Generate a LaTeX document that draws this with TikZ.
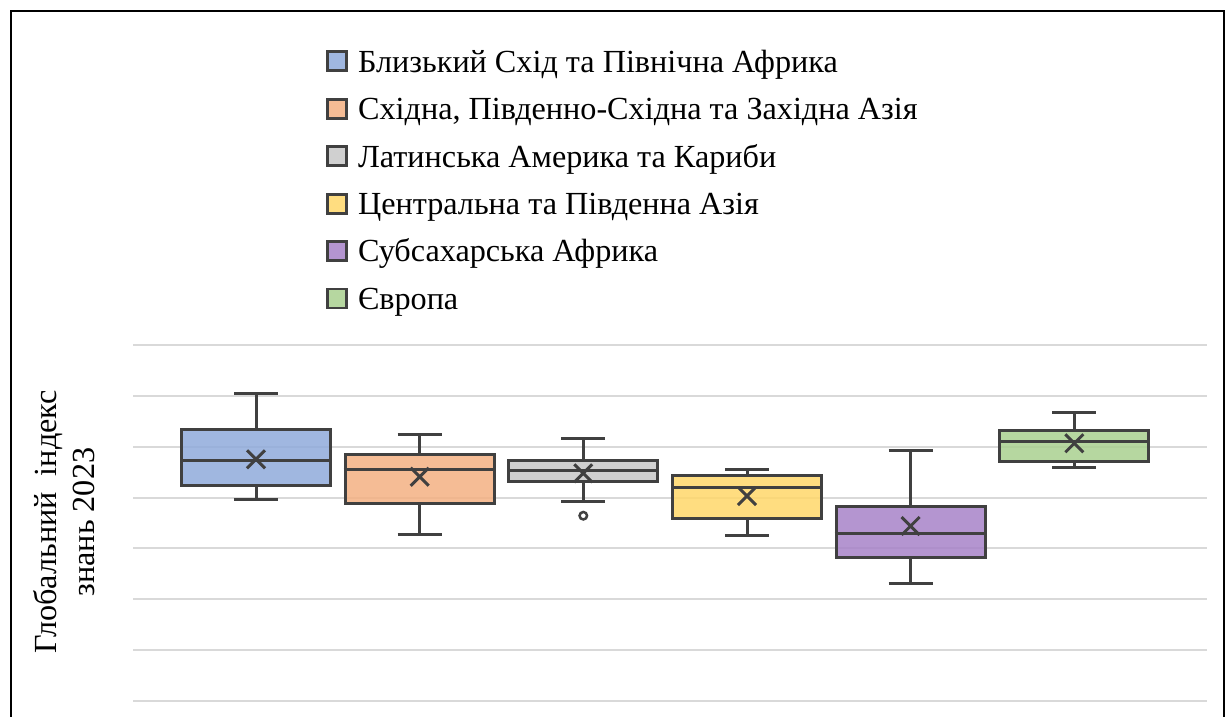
\documentclass[tikz,border=0pt]{standalone}
\usepackage{fontspec}
\setmainfont{Liberation Serif}
\usetikzlibrary{positioning,shapes.misc}
\definecolor{gridgray}{RGB}{217,217,217}
\definecolor{edgegray}{RGB}{64,64,64}
\definecolor{cblue}{RGB}{143,170,219}
\definecolor{corange}{RGB}{243,176,131}
\definecolor{cgray}{RGB}{200,200,200}
\definecolor{cyellow}{RGB}{255,215,106}
\definecolor{cpurple}{RGB}{167,131,200}
\definecolor{cgreen}{RGB}{169,208,143}

\begin{document}
\begin{tikzpicture}[x=1pt,y=-1pt,
    gridline/.style={draw=gridgray, line width=2pt},
    whisk/.style={draw=edgegray, line width=3pt},
    boxst/.style={rectangle, draw=edgegray, line width=3pt, fill opacity=0.85,
      inner sep=0pt, minimum width=149pt},
    meanx/.style={cross out, draw=edgegray, line width=3pt, inner sep=0pt,
      minimum size=15pt},
    legbox/.style={rectangle, draw=edgegray, line width=2.8pt, fill opacity=0.85,
      inner sep=0pt, minimum size=19pt},
    legtext/.style={inner sep=0pt, font=\fontsize{32.2}{38}\selectfont}]
  \useasboundingbox (0,0) rectangle (1226,716);

  % frame
  \draw[line width=2pt] (11,730) -- (11,11) -- (1224,11) -- (1224,730);

  % grid
  \foreach \k in {0,...,7}
    \draw[gridline] (133,345+\k*50.85) -- (1207,345+\k*50.85);

  % axis title
  \node[rotate=90, align=center, inner sep=0pt, font=\fontsize{32.2}{38}\selectfont]
    (ylab) at (64,522) {Глобальний\ \ індекс\\знань 2023};

  % legend
  \node[legbox, fill=cblue] (l1) at (337,61.2) {};
  \node[legbox, fill=corange] (l2) at (337,108.7) {};
  \node[legbox, fill=cgray] (l3) at (337,156.1) {};
  \node[legbox, fill=cyellow] (l4) at (337,203.6) {};
  \node[legbox, fill=cpurple] (l5) at (337,251) {};
  \node[legbox, fill=cgreen] (l6) at (337,298.5) {};
  \node[legtext, right=10pt of l1.south east, anchor=base west] (t1) {Близький Схід та Північна Африка};
  \node[legtext, right=10pt of l2.south east, anchor=base west] (t2) {Східна, Південно-Східна та Західна Азія};
  \node[legtext, right=10pt of l3.south east, anchor=base west] (t3) {Латинська Америка та Кариби};
  \node[legtext, right=10pt of l4.south east, anchor=base west] (t4) {Центральна та Південна Азія};
  \node[legtext, right=10pt of l5.south east, anchor=base west] (t5) {Субсахарська Африка};
  \node[legtext, right=10pt of l6.south east, anchor=base west] (t6) {Європа};

  % whisker ends
  \coordinate (hi1) at (256,393.3);   \coordinate (lo1) at (256,499.3);
  \coordinate (hi2) at (419.7,434);   \coordinate (lo2) at (419.7,534.7);
  \coordinate (hi3) at (583.3,438.7); \coordinate (lo3) at (583.3,501);
  \coordinate (hi4) at (747,469);     \coordinate (lo4) at (747,535);
  \coordinate (hi5) at (910.6,450.7); \coordinate (lo5) at (910.6,583.3);
  \coordinate (hi6) at (1074.3,412.7);\coordinate (lo6) at (1074.3,467);

  \draw[whisk] (256,429) -- (hi1) (256,485.3) -- (lo1);
  \draw[whisk] (419.7,454.7) -- (hi2) (419.7,503.3) -- (lo2);
  \draw[whisk] (583.3,460.3) -- (hi3) (583.3,481.3) -- (lo3);
  \draw[whisk] (747,475.3) -- (hi4) (747,518) -- (lo4);
  \draw[whisk] (910.6,506.7) -- (hi5) (910.6,558) -- (lo5);
  \draw[whisk] (1074.3,430) -- (hi6) (1074.3,461.3) -- (lo6);
  \foreach \n in {1,...,6}
    \draw[whisk] ([xshift=-22pt]hi\n) -- ([xshift=22pt]hi\n)
                 ([xshift=-22pt]lo\n) -- ([xshift=22pt]lo\n);

  % boxes
  \node[boxst, fill=cblue, minimum height=56.3pt] (b1) at (256,457.2) {};
  \node[boxst, fill=corange, minimum height=48.6pt] (b2) at (419.7,479) {};
  \node[boxst, fill=cgray, minimum height=21pt] (b3) at (583.3,470.8) {};
  \node[boxst, fill=cyellow, minimum height=42.7pt] (b4) at (747,496.7) {};
  \node[boxst, fill=cpurple, minimum height=51.3pt] (b5) at (910.6,532.3) {};
  \node[boxst, fill=cgreen, minimum height=31.3pt] (b6) at (1074.3,445.7) {};

  % medians
  \coordinate (md1) at (0,460.7);
  \coordinate (md2) at (0,469.3);
  \coordinate (md3) at (0,470);
  \coordinate (md4) at (0,487);
  \coordinate (md5) at (0,533.3);
  \coordinate (md6) at (0,441.3);
  \foreach \n in {1,...,6}
    \draw[whisk] (b\n.west |- md\n) -- (b\n.east |- md\n);

  % means
  \node[meanx] (x1) at (256,459.3) {};
  \node[meanx] (x2) at (419.7,476.7) {};
  \node[meanx] (x3) at (583.3,473.3) {};
  \node[meanx] (x4) at (747,496) {};
  \node[meanx] (x5) at (910.6,526) {};
  \node[meanx] (x6) at (1074.3,443.3) {};

  % outlier
  \node[circle, draw=edgegray, line width=2.5pt, inner sep=0pt, minimum size=7.5pt]
    (o3) at (583.3,515.7) {};
\end{tikzpicture}
\end{document}
